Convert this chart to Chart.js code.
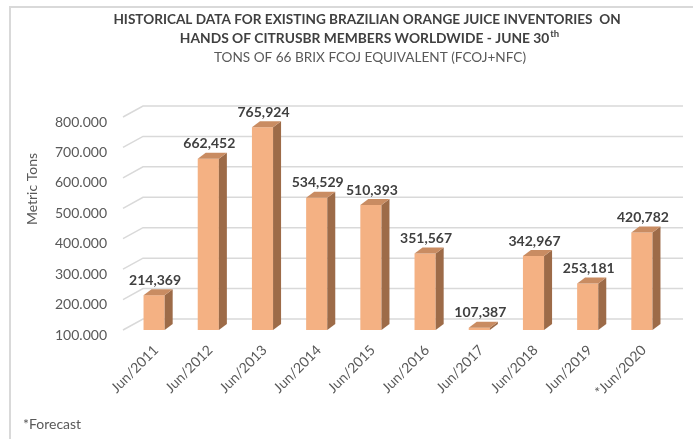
<!DOCTYPE html>
<html>
<head>
<meta charset="utf-8">
<script src="https://cdn.jsdelivr.net/npm/chart.js@4.4.1/dist/chart.umd.min.js"></script>
<style>
  html, body { margin: 0; padding: 0; background: #fff; }
  #box { width: 693px; height: 439px; }
</style>
</head>
<body>
<div id="box"><canvas id="chart" width="693" height="439"></canvas></div>
<script>
const categories = ["Jun/2011", "Jun/2012", "Jun/2013", "Jun/2014", "Jun/2015",
                    "Jun/2016", "Jun/2017", "Jun/2018", "Jun/2019", "*Jun/2020"];
const inventories = [214369, 662452, 765924, 534529, 510393, 351567, 107387, 342967, 253181, 420782];
const yTicks = [100000, 200000, 300000, 400000, 500000, 600000, 700000, 800000];

const titleLine1 = "HISTORICAL DATA FOR EXISTING BRAZILIAN ORANGE JUICE INVENTORIES  ON";
const titleLine2 = "HANDS OF CITRUSBR MEMBERS WORLDWIDE - JUNE 30";
const titleSup = "th";
const subtitle = "TONS OF 66 BRIX FCOJ EQUIVALENT (FCOJ+NFC)";

const FONT = "Lato, 'Open Sans', sans-serif";
const DX = 8, DY = 6;

// frame, title and footnote
const decorPlugin = {
    id: "decor",
    beforeDraw(chart) {
        const c = chart.ctx;
        c.save();
        c.strokeStyle = "#d9d9d9";
        c.lineWidth = 2;
        c.beginPath();
        c.moveTo(10, 439);
        c.lineTo(10, 7);
        c.lineTo(693, 7);
        c.stroke();

        c.textAlign = "center";
        c.textBaseline = "middle";
        c.fillStyle = "#404040";
        c.font = "bold 13.6px " + FONT;
        c.fillText(titleLine1, 367, 20);

        c.font = "bold 13.8px " + FONT;
        const w2 = c.measureText(titleLine2).width;
        c.font = "bold 9.5px " + FONT;
        const ws = c.measureText(titleSup).width;
        const x2 = 369 - (w2 + ws) / 2;
        c.textAlign = "left";
        c.font = "bold 13.8px " + FONT;
        c.fillText(titleLine2, x2, 39);
        c.font = "bold 9.5px " + FONT;
        c.fillText(titleSup, x2 + w2 + 1, 34);

        c.textAlign = "center";
        c.fillStyle = "#595959";
        c.font = "13.6px " + FONT;
        c.fillText(subtitle, 370, 58);

        c.textAlign = "left";
        c.font = "14px " + FONT;
        c.fillText("*Forecast", 23, 424);

        c.translate(32, 189);
        c.rotate(-Math.PI / 2);
        c.textAlign = "center";
        c.font = "14px " + FONT;
        c.fillText("Metric Tons", 0, 0);
        c.restore();
    }
};

// back wall gridlines with a little perspective
const gridPlugin = {
    id: "grid3d",
    beforeDatasetsDraw(chart) {
        const c = chart.ctx, y = chart.scales.y, area = chart.chartArea;
        c.save();
        c.strokeStyle = "#d9d9d9";
        c.lineWidth = 1.5;
        yTicks.forEach(v => {
            const py = y.getPixelForValue(v);
            c.beginPath();
            c.moveTo(area.left - 4, py);
            c.lineTo(area.left + 16, py - 11);
            c.lineTo(683, py - 11);
            c.stroke();
        });
        c.restore();
    }
};

// side and top faces plus value labels
const barPlugin = {
    id: "bars3d",
    afterDatasetsDraw(chart) {
        const c = chart.ctx;
        const meta = chart.getDatasetMeta(0);
        c.save();
        meta.data.forEach((bar, i) => {
            const p = bar.getProps(["x", "y", "base", "width"], true);
            const l = p.x - p.width / 2, r = p.x + p.width / 2;
            c.fillStyle = "#9d6b48";
            c.beginPath();
            c.moveTo(r, p.y);
            c.lineTo(r + DX, p.y - DY);
            c.lineTo(r + DX, p.base - DY);
            c.lineTo(r, p.base);
            c.closePath();
            c.fill();
            c.fillStyle = "#c98c62";
            c.beginPath();
            c.moveTo(l, p.y);
            c.lineTo(l + DX, p.y - DY);
            c.lineTo(r + DX, p.y - DY);
            c.lineTo(r, p.y);
            c.closePath();
            c.fill();

            c.fillStyle = "#404040";
            c.font = "bold 14px " + FONT;
            c.textAlign = "center";
            c.textBaseline = "middle";
            c.fillText(inventories[i].toLocaleString("en-US"), p.x + 1, p.y - 15);
        });
        c.restore();
    }
};

new Chart(document.getElementById("chart"), {
    type: "bar",
    data: {
        labels: categories,
        datasets: [{
            data: inventories,
            base: 100000,
            backgroundColor: "#f4b183",
            categoryPercentage: 1,
            barPercentage: 0.39
        }]
    },
    options: {
        responsive: false,
        animation: false,
        layout: { padding: { top: 117, right: 24, left: 0, bottom: 0 } },
        plugins: {
            legend: { display: false },
            tooltip: { enabled: false },
            title: { display: false }
        },
        scales: {
            x: {
                grid: { display: false, drawTicks: false },
                border: { display: false },
                ticks: {
                    autoSkip: false,
                    minRotation: 45,
                    maxRotation: 45,
                    padding: 12,
                    labelOffset: 2,
                    color: "#595959",
                    font: { family: FONT, size: 14 }
                },
                afterFit(s) { s.height = 109; }
            },
            y: {
                min: 100000,
                max: 800000,
                grid: { display: false, drawTicks: false },
                border: { display: false },
                afterBuildTicks(s) { s.ticks = yTicks.map(v => ({ value: v })); },
                ticks: {
                    padding: 20,
                    labelOffset: 5,
                    color: "#595959",
                    font: { family: FONT, size: 14 },
                    callback: v => v.toLocaleString("de-DE")
                },
                afterFit(s) { s.width = 127; }
            }
        }
    },
    plugins: [decorPlugin, gridPlugin, barPlugin]
});
</script>
</body>
</html>
